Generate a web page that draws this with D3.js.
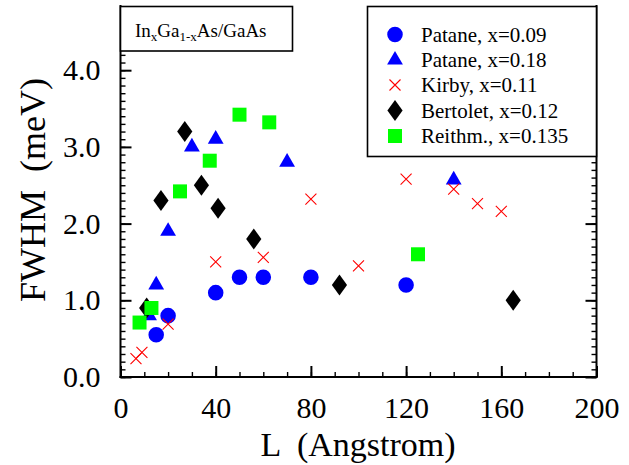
<!DOCTYPE html>
<html><head><meta charset="utf-8">
<script src="https://cdn.jsdelivr.net/npm/d3@7"></script>
<style>
html,body{margin:0;padding:0;background:#fff;}
svg{display:block;}
text{font-family:"Liberation Serif","Times New Roman",serif;fill:#000;white-space:pre;}
</style></head>
<body>
<script>
// ---- data ----
const patane09 = [[15,0.55],[20,0.8],[40,1.1],[50,1.3],[60,1.3],[80,1.3],[120,1.2]];
const patane18 = [[12,0.8],[15,1.2],[20,1.9],[30,3.0],[40,3.1],[70,2.8],[140,2.57]];
const kirby011 = [[6.5,0.24],[9,0.32],[20,0.69],[40,1.5],[60,1.56],[80,2.32],[100,1.45],[120,2.58],[140,2.45],[150,2.26],[160,2.16]];
const bertolet012 = [[11,0.9],[17,2.3],[27,3.2],[34,2.5],[41,2.2],[56,1.8],[92,1.2],[165,1.0]];
const reithm0135 = [[8,0.71],[13,0.9],[25,2.42],[37.5,2.82],[50,3.42],[62.5,3.32],[125,1.6]];
const seriesNames = ["Patane, x=0.09","Patane, x=0.18","Kirby, x=0.11","Bertolet, x=0.12","Reithm., x=0.135"];
const xTickValues = [0,40,80,120,160,200];
const xTickLabels = ["0","40","80","120","160","200"];
const yTickValues = [0,1,2,3,4];
const yTickLabels = ["0.0","1.0","2.0","3.0","4.0"];

const W = 629, H = 465;
const svg = d3.select("body").append("svg").attr("width",W).attr("height",H);

const x = d3.scaleLinear().domain([0,200]).range([120.5,596.5]);
const y = d3.scaleLinear().domain([0,4.85]).range([377,5]);

// ---- axes ----
function styleAxis(g, sw){
  g.selectAll(".domain").remove();
  g.selectAll(".tick line").attr("stroke","#000").attr("stroke-width",sw);
}
// left
const gl = svg.append("g").attr("transform",`translate(${x(0)},0)`)
  .call(d3.axisLeft(y).tickValues(d3.range(0,48).map(i=>i/10)).tickSize(-5).tickFormat(""));
styleAxis(gl,1.4);
const glM = svg.append("g").attr("transform",`translate(${x(0)},0)`)
  .call(d3.axisLeft(y).tickValues(yTickValues).tickSize(-11).tickPadding(20).tickFormat((d,i)=>yTickLabels[i]));
styleAxis(glM,2);
glM.selectAll("text").attr("font-size",30).attr("font-family","Liberation Serif");
// right
const gr = svg.append("g").attr("transform",`translate(${x(200)},0)`)
  .call(d3.axisRight(y).tickValues(d3.range(0,48).map(i=>i/10)).tickSize(-5).tickFormat(""));
styleAxis(gr,1.4);
const grM = svg.append("g").attr("transform",`translate(${x(200)},0)`)
  .call(d3.axisRight(y).tickValues(yTickValues).tickSize(-11).tickFormat(""));
styleAxis(grM,2);
// bottom
const gb = svg.append("g").attr("transform",`translate(0,${y(0)})`)
  .call(d3.axisBottom(x).tickValues(d3.range(0,201,10)).tickSize(-5).tickFormat(""));
styleAxis(gb,1.4);
const gbM = svg.append("g").attr("transform",`translate(0,${y(0)})`)
  .call(d3.axisBottom(x).tickValues(xTickValues).tickSize(-11).tickPadding(20).tickFormat((d,i)=>xTickLabels[i]));
styleAxis(gbM,2);
gbM.selectAll("text").attr("font-size",30).attr("font-family","Liberation Serif");

// frame lines
const frame = svg.append("g").attr("stroke","#000").attr("stroke-width",2).attr("fill","none");
frame.append("line").attr("x1",x(0)).attr("x2",x(0)).attr("y1",y(0)+1).attr("y2",y(4.85));
frame.append("line").attr("x1",x(200)).attr("x2",x(200)).attr("y1",y(0)+1).attr("y2",y(4.85));
frame.append("line").attr("x1",x(0)-1).attr("x2",x(200)+1).attr("y1",y(0)).attr("y2",y(0));

// ---- markers ----
const symCircle = d3.symbol().type(d3.symbolCircle).size(190)();
const symTri = d3.symbol().type(d3.symbolTriangle).size(108)();
const symSquare = d3.symbol().type(d3.symbolSquare).size(196)();
const symDiamond = d3.line()([[0,-10.5],[7.6,0],[0,10.5],[-7.6,0]]) + "Z";
const symCross = "M-5.5,-5.5L5.5,5.5M-5.5,5.5L5.5,-5.5";

const styles = [
  {d:symCircle, fill:"#0000ff", stroke:"none"},
  {d:symTri, fill:"#0000ff", stroke:"none"},
  {d:symCross, fill:"none", stroke:"#ff0000", sw:1.1},
  {d:symDiamond, fill:"#000", stroke:"none"},
  {d:symSquare, fill:"#00ff00", stroke:"none"}
];
const allSeries = [patane09, patane18, kirby011, bertolet012, reithm0135];

allSeries.forEach((data,i)=>{
  const s = styles[i];
  svg.append("g").selectAll("path").data(data).join("path")
    .attr("transform",d=>`translate(${x(d[0])},${y(d[1])})`)
    .attr("d",s.d).attr("fill",s.fill).attr("stroke",s.stroke).attr("stroke-width",s.sw||0);
});

// ---- inset label box ----
svg.append("rect").attr("x",120.5).attr("y",6.5).attr("width",172).attr("height",44.5)
  .attr("fill","#fff").attr("stroke","#000").attr("stroke-width",1.6);
const lab = svg.append("text").attr("x",135).attr("y",37).attr("font-size",19);
lab.append("tspan").text("In");
lab.append("tspan").attr("font-size",13).attr("dy",4).text("x");
lab.append("tspan").attr("dy",-4).text("Ga");
lab.append("tspan").attr("font-size",13).attr("dy",4).text("1-x");
lab.append("tspan").attr("dy",-4).text("As/GaAs");

// ---- legend ----
svg.append("rect").attr("x",367.5).attr("y",6.5).attr("width",229).attr("height",150)
  .attr("fill","#fff").attr("stroke","#000").attr("stroke-width",1.6);
const legY = [34.5,60,85,110.5,136];
seriesNames.forEach((name,i)=>{
  const s = styles[i];
  svg.append("path").attr("transform",`translate(395,${legY[i]})`)
    .attr("d",s.d).attr("fill",s.fill).attr("stroke",s.stroke).attr("stroke-width",s.sw||0);
  svg.append("text").attr("x",421).attr("y",legY[i]+7).attr("font-size",21).text(name);
});

// ---- axis titles ----
svg.append("text").attr("x",358).attr("y",456).attr("text-anchor","middle").attr("font-size",34)
  .text("L  (Angstrom)");
svg.append("text").attr("transform","translate(45,190) rotate(-90)").attr("text-anchor","middle").attr("font-size",36)
  .text("FWHM  (meV)");
</script>
</body></html>
